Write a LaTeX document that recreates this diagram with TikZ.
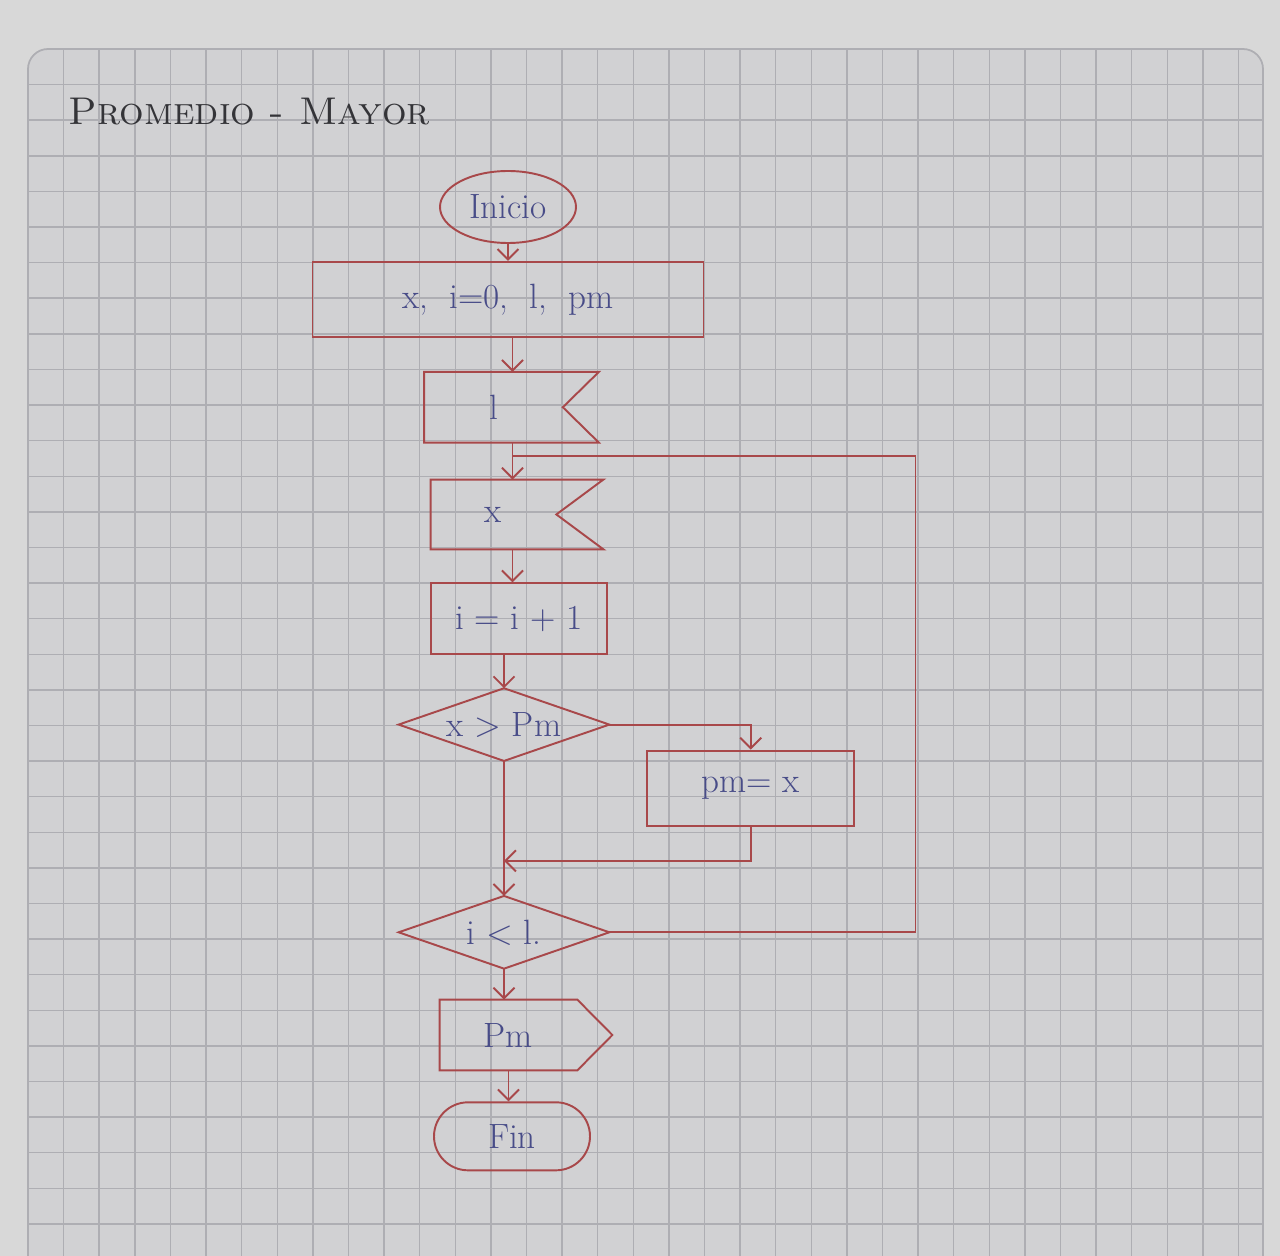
\documentclass[tikz,border=0pt]{standalone}
\usepackage{tikz}
\usetikzlibrary{arrows.meta,positioning,shapes.geometric,shapes.misc}

\definecolor{penred}{RGB}{168,72,74}
\definecolor{ink}{RGB}{72,76,136}
\definecolor{pencil}{RGB}{52,52,56}
\definecolor{paperc}{RGB}{209,209,211}
\definecolor{deskc}{RGB}{216,216,216}
\definecolor{gridc}{RGB}{174,174,179}

\tikzset{
    pen/.style={draw=penred, line width=1.1pt},
    flowbox/.style={rectangle, pen, inner sep=0pt},
    cardbox/.style={rectangle, draw=none, inner sep=0pt, minimum height=1.4cm},
    ask/.style={rectangle, draw=none, inner sep=0pt, minimum width=4.2cm, minimum height=1.44cm},
}

\begin{document}
\begin{tikzpicture}[node distance=0.66cm, >={Straight Barb[length=6pt,width=12pt]},
    every node/.style={text=ink, font=\fontsize{20}{24}\selectfont}]
    \useasboundingbox (0,0) rectangle (25.6,-25.12);
    \clip (0,0) rectangle (25.6,-25.12);
    % grid paper
    \fill[deskc] (0,0) rectangle (25.6,-25.12);
    \fill[paperc, rounded corners=0.4cm] (0.56,-0.98) rectangle (25.26,-26);
    \begin{scope}
        \clip[rounded corners=0.4cm] (0.56,-0.98) rectangle (25.26,-26);
        \foreach \i in {1,...,34}
            \draw[gridc, line width=0.8pt] (0.56+0.712*\i,0) -- ++(0,-26);
        \foreach \j in {1,...,34}
            \draw[gridc, line width=0.8pt] (0,-0.98-0.712*\j) -- ++(26,0);
    \end{scope}
    \draw[gridc, line width=1pt, rounded corners=0.4cm] (0.56,-0.98) rectangle (25.26,-26);

    \node[anchor=west, text=pencil, font=\fontsize{22}{26}\selectfont\scshape] (title) at (1.25,-2.24) {Promedio - Mayor};

    \node[ellipse, pen, inner sep=0pt, minimum width=2.72cm, minimum height=1.44cm] (start) at (10.16,-4.14) {Inicio};
    \node[flowbox, minimum width=7.82cm, minimum height=1.5cm] (init) [below=0.34cm of start] {x,\ \ i=0,\ \ l,\ \ pm};
    \node[cardbox, minimum width=2.76cm] (inL) [below=0.68cm of init, xshift=-0.29cm] {l};
    \node[cardbox, minimum width=2.5cm, minimum height=1.38cm] (inX) [below=0.74cm of inL] {x};
    \node[flowbox, minimum width=3.52cm, minimum height=1.42cm] (inc) [below=of inX, xshift=0.51cm] {i = i + 1};
    \node[ask] (dec1) [below=of inc, xshift=-0.3cm] {x > Pm};
    \node[flowbox, minimum width=4.14cm, minimum height=1.5cm] (setpm) [right=0.74cm of dec1, yshift=-1.27cm] {pm= x};
    \node[ask] (dec2) [below=2.7cm of dec1] {i < l.};
    \node[cardbox, minimum width=2.74cm] (out) [below=0.62cm of dec2, xshift=0.09cm] {Pm};
    \node[rounded rectangle, pen, inner sep=0pt, minimum width=3.12cm, minimum height=1.36cm] (fin) [below=0.62cm of out, xshift=0.07cm] {Fin};

    % card, decision and output outlines
    \draw[pen] (inL.north west) -- ([xshift=0.72cm]inL.north east) -- (inL.east)
        -- ([xshift=0.72cm]inL.south east) -- (inL.south west) -- cycle;
    \draw[pen] (inX.north west) -- ([xshift=0.94cm]inX.north east) -- (inX.east)
        -- ([xshift=0.94cm]inX.south east) -- (inX.south west) -- cycle;
    \draw[pen] (dec1.north) -- (dec1.east) -- (dec1.south) -- (dec1.west) -- cycle;
    \draw[pen] (dec2.north) -- (dec2.east) -- (dec2.south) -- (dec2.west) -- cycle;
    \draw[pen] (out.north west) -- (out.north east) -- ([xshift=0.7cm]out.east)
        -- (out.south east) -- (out.south west) -- cycle;

    \coordinate (loop) at ([xshift=0.38cm,yshift=-0.26cm]inL.south);
    \coordinate[right=8.06cm of loop] (loopR);
    \coordinate (merge) at ([yshift=-2cm]dec1.south);

    \draw[pen, ->] (start) -- (init);
    \draw[pen, ->] (init.south -| loop) -- (inL.north -| loop);
    \draw[pen, ->] (inL.south -| loop) -- (inX.north -| loop);
    \draw[pen, ->] (inX.south -| loop) -- (inc.north -| loop);
    \draw[pen, ->] (inc.south -| dec1) -- (dec1.north);
    \draw[pen, ->] (dec1.east) -| (setpm.north);
    \draw[pen, ->] (setpm.south) |- (merge);
    \draw[pen, ->] (dec1.south) -- (dec2.north);
    \draw[pen] (dec2.east) -| (loopR) -- (loop);
    \draw[pen, ->] (dec2.south) -- (out.north -| dec2.south);
    \draw[pen, ->] (out.south) -- (fin.north -| out.south);
\end{tikzpicture}
\end{document}
